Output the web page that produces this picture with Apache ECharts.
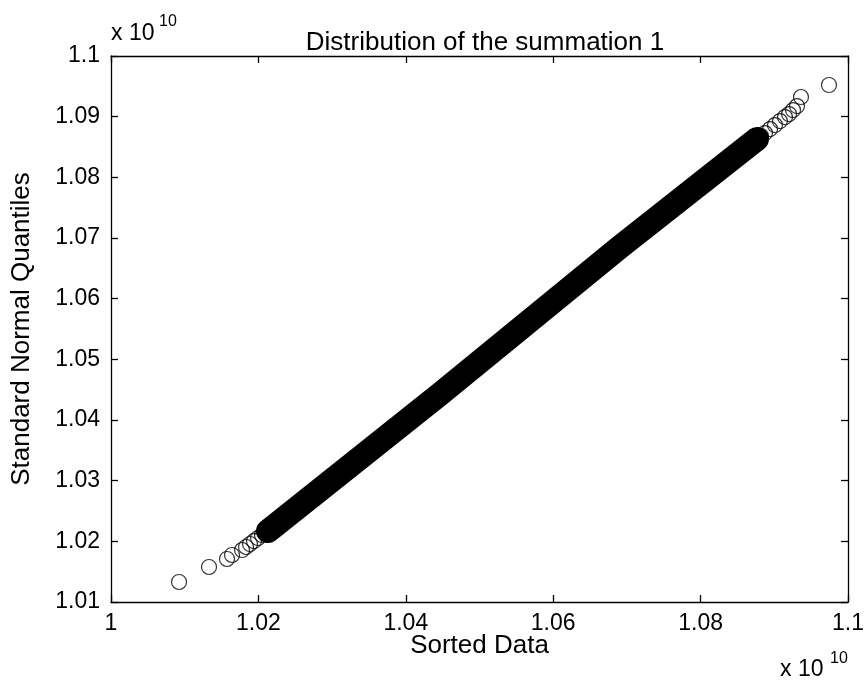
<!DOCTYPE html>
<html>
<head>
<meta charset="utf-8">
<title>Distribution of the summation 1</title>
<script src="https://cdn.jsdelivr.net/npm/echarts@6/dist/echarts.min.js"></script>
<style>
  html, body { margin: 0; padding: 0; background: #fff; }
  #chart { width: 868px; height: 683px; }
</style>
</head>
<body>
<div id="chart"></div>
<script>
// all values in units of 10^10
// dense part of the plot: the centre line of the solid band
const bandX = [1.02130, 1.04464, 1.06906, 1.08765];
const bandY = [1.02170, 1.04428, 1.06851, 1.08632];

// lower tail, single circles
const lowX = [1.00923, 1.01330, 1.01574, 1.01642, 1.01778, 1.01832, 1.01886, 1.01940, 1.01995, 1.02049];
const lowY = [1.01330, 1.01577, 1.01709, 1.01775, 1.01857, 1.01907, 1.01956, 1.02005, 1.02055, 1.02104];

// upper tail, single circles
const highX = [1.08820, 1.08874, 1.08942, 1.09009, 1.09077, 1.09145, 1.09200, 1.09254, 1.09308, 1.09362, 1.09742];
const highY = [1.08681, 1.08730, 1.08796, 1.08862, 1.08928, 1.08994, 1.09043, 1.09109, 1.09175, 1.09324, 1.09522];

const xTicks = [1, 1.02, 1.04, 1.06, 1.08, 1.1];
const yTicks = [1.01, 1.02, 1.03, 1.04, 1.05, 1.06, 1.07, 1.08, 1.09, 1.1];

const FONT = 'Liberation Sans, Arial, Helvetica, sans-serif';

function pairs(xs, ys) {
    return xs.map((x, i) => [x, ys[i]]);
}
function fmt(v) {
    return String(+v.toFixed(2));
}

const chart = echarts.init(document.getElementById('chart'), null, { renderer: 'canvas' });

const axisCommon = {
    type: 'value',
    axisLine: { show: true, onZero: false, lineStyle: { color: '#000', width: 1.3 } },
    axisTick: { show: true, inside: true, length: 7, lineStyle: { color: '#000', width: 1.3 } },
    splitLine: { show: false }
};

const option = {
    backgroundColor: '#fff',
    animation: false,
    title: {
        text: 'Distribution of the summation 1',
        left: 480,
        top: 25,
        textAlign: 'center',
        textStyle: { fontFamily: FONT, fontSize: 26, fontWeight: 'normal', color: '#000' }
    },
    grid: {
        left: 111,
        right: 20,
        top: 56,
        bottom: 81,
        containLabel: false,
        outerBoundsMode: 'none'
    },
    xAxis: [
        Object.assign({}, axisCommon, {
            position: 'bottom',
            min: xTicks[0],
            max: xTicks[xTicks.length - 1],
            interval: 0.02,
            name: 'Sorted Data',
            nameLocation: 'middle',
            nameGap: 31,
            nameMoveOverlap: false,
            nameTextStyle: { fontFamily: FONT, fontSize: 26, color: '#000' },
            axisLabel: { fontFamily: FONT, fontSize: 23, color: '#000', margin: 10, formatter: fmt }
        }),
        Object.assign({}, axisCommon, {
            position: 'top',
            min: xTicks[0],
            max: xTicks[xTicks.length - 1],
            interval: 0.02,
            axisLabel: { show: false }
        })
    ],
    yAxis: [
        Object.assign({}, axisCommon, {
            position: 'left',
            min: yTicks[0],
            max: yTicks[yTicks.length - 1],
            interval: 0.01,
            name: 'Standard Normal Quantiles',
            nameLocation: 'middle',
            nameGap: 76,
            nameMoveOverlap: false,
            nameTextStyle: { fontFamily: FONT, fontSize: 26, color: '#000' },
            axisLabel: { fontFamily: FONT, fontSize: 23, color: '#000', margin: 11, formatter: fmt }
        }),
        Object.assign({}, axisCommon, {
            position: 'right',
            min: yTicks[0],
            max: yTicks[yTicks.length - 1],
            interval: 0.01,
            axisLabel: { show: false }
        })
    ],
    graphic: [
        { type: 'text', left: 111, top: 22, style: { text: 'x 10', fontFamily: FONT, fontSize: 23, fill: '#000' } },
        { type: 'text', left: 159, top: 14, style: { text: '10', fontFamily: FONT, fontSize: 16, fill: '#000' } },
        { type: 'text', left: 780, top: 658, style: { text: 'x 10', fontFamily: FONT, fontSize: 23, fill: '#000' } },
        { type: 'text', left: 830, top: 651, style: { text: '10', fontFamily: FONT, fontSize: 16, fill: '#000' } }
    ],
    series: [
        {
            name: 'band',
            type: 'line',
            data: pairs(bandX, bandY),
            symbol: 'none',
            smooth: false,
            lineStyle: { color: '#000', width: 24, cap: 'round', join: 'round' },
            z: 2
        },
        {
            name: 'low tail',
            type: 'scatter',
            data: pairs(lowX, lowY),
            symbol: 'circle',
            symbolSize: 15,
            itemStyle: { color: 'rgba(0,0,0,0)', borderColor: '#000', borderWidth: 1.2 },
            z: 3
        },
        {
            name: 'high tail',
            type: 'scatter',
            data: pairs(highX, highY),
            symbol: 'circle',
            symbolSize: 15,
            itemStyle: { color: 'rgba(0,0,0,0)', borderColor: '#000', borderWidth: 1.2 },
            z: 3
        }
    ]
};

chart.setOption(option);
</script>
</body>
</html>
